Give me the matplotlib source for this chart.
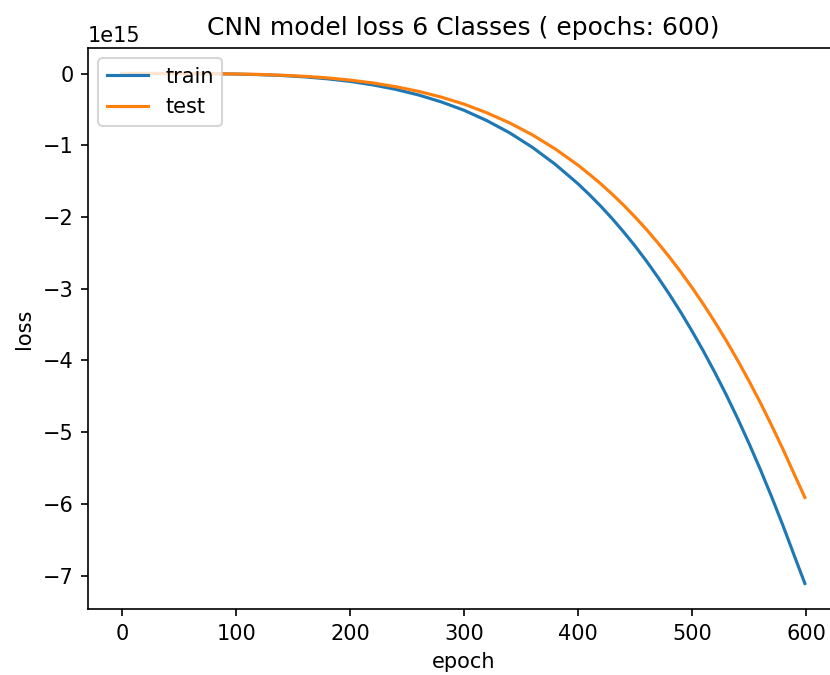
import matplotlib

matplotlib.use("Agg")
import matplotlib.pyplot as plt
import numpy as np

# loss values (units of 1e15)
epochs = np.array([0, 20, 40, 60, 80, 100, 120, 140, 160, 180, 200, 220, 240,
                   260, 280, 300, 320, 340, 360, 380, 400, 410, 420, 430, 440,
                   450, 460, 470, 480, 490, 500, 510, 520, 530, 540, 550, 560,
                   570, 580, 590, 599])
train_loss = np.array([0.0, 0.0, -0.0002, -0.0011, -0.0034, -0.0079, -0.016,
                       -0.028, -0.047, -0.074, -0.110, -0.159, -0.221, -0.299,
                       -0.396, -0.513, -0.657, -0.827, -1.030, -1.266, -1.538,
                       -1.690, -1.851, -2.024, -2.209, -2.405, -2.615, -2.839,
                       -3.075, -3.325, -3.591, -3.871, -4.167, -4.479, -4.809,
                       -5.157, -5.523, -5.908, -6.311, -6.733, -7.11])
test_loss = np.array([0.0, 0.0, -0.0002, -0.0009, -0.0028, -0.0066, -0.013,
                      -0.024, -0.039, -0.061, -0.092, -0.132, -0.184, -0.249,
                      -0.329, -0.427, -0.548, -0.689, -0.856, -1.052, -1.278,
                      -1.405, -1.539, -1.683, -1.836, -2.000, -2.174, -2.360,
                      -2.556, -2.764, -2.985, -3.217, -3.464, -3.723, -3.998,
                      -4.287, -4.591, -4.911, -5.246, -5.597, -5.91])

fig = plt.figure(figsize=(830 / 150, 675 / 150), dpi=150)
ax = fig.add_axes([88 / 830, 66 / 675, 751 / 830, 561 / 675])

ax.plot(epochs, train_loss * 1e15, label="train")
ax.plot(epochs, test_loss * 1e15, label="test")
ax.set_title("CNN model loss 6 Classes ( epochs: 600)")
ax.set_ylabel("loss")
ax.set_xlabel("epoch")
ax.legend(loc="upper left")

fig.savefig("out.png", dpi=150)
